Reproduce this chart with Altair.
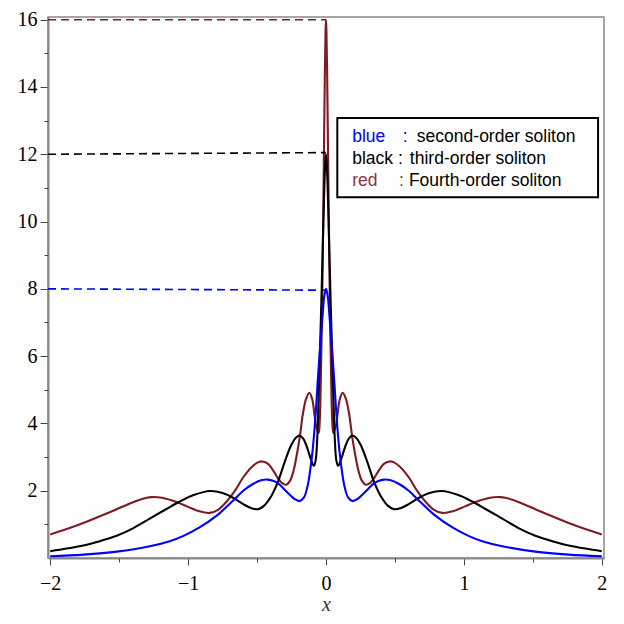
import altair as alt
import pandas as pd

# ---- data (left half, curves are symmetric about x=0) ----
blue_x = [-2.0, -1.76, -1.518, -1.278, -1.133, -1.037, -0.92, -0.795, -0.675, -0.6,
          -0.53, -0.47, -0.422, -0.38, -0.338, -0.3, -0.265, -0.23, -0.193, -0.16,
          -0.133, -0.115, -0.097, -0.082, -0.07, -0.056, -0.04, -0.025, -0.012, 0.0]
blue_y = [0.05, 0.10, 0.19, 0.35, 0.50, 0.65, 0.90, 1.25, 1.70, 2.0,
          2.2, 2.31, 2.33, 2.29, 2.19, 2.03, 1.89, 1.76, 1.69, 1.8,
          2.15, 2.6, 3.2, 3.9, 4.6, 5.5, 6.4, 7.2, 7.8, 8.0]

black_x = [-2.0, -1.88, -1.76, -1.64, -1.518, -1.4, -1.278, -1.16, -1.06, -0.96,
           -0.84, -0.75, -0.675, -0.6, -0.54, -0.494, -0.45, -0.4, -0.35, -0.3,
           -0.253, -0.22, -0.193, -0.165, -0.14, -0.115, -0.098, -0.087, -0.075,
           -0.063, -0.055, -0.048, -0.035, -0.025, -0.015, -0.007, 0.0]
black_y = [0.20, 0.28, 0.37, 0.50, 0.66, 0.88, 1.17, 1.45, 1.68, 1.87,
           1.99, 1.93, 1.79, 1.60, 1.48, 1.45, 1.55, 1.82, 2.25, 2.85,
           3.35, 3.57, 3.64, 3.55, 3.32, 3.0, 2.8, 2.74, 2.9,
           3.6, 4.6, 5.6, 7.4, 9.0, 10.6, 11.6, 12.0]

red_x = [-2.0, -1.88, -1.76, -1.64, -1.518, -1.4, -1.3, -1.265, -1.2, -1.109,
         -1.0, -0.92, -0.844, -0.78, -0.72, -0.66, -0.6, -0.54, -0.49, -0.46,
         -0.42, -0.386, -0.35, -0.32, -0.289, -0.26, -0.235, -0.217, -0.19, -0.169,
         -0.145, -0.121, -0.1, -0.085, -0.07, -0.053, -0.045, -0.038, -0.03, -0.022,
         -0.015, -0.008, -0.003, 0.0]
red_y = [0.70, 0.86, 1.04, 1.24, 1.45, 1.66, 1.79, 1.81, 1.80, 1.70,
         1.52, 1.39, 1.34, 1.44, 1.68, 2.0, 2.4, 2.7, 2.85, 2.87,
         2.8, 2.62, 2.38, 2.23, 2.18, 2.3, 2.6, 2.95, 3.6, 4.25,
         4.72, 4.91, 4.72, 4.31, 3.9, 3.72, 4.1, 5.2, 7.0, 9.5,
         12.0, 14.5, 15.7, 16.0]

# dashed guide lines (start, end heights)
guide_names = ["red", "black", "blue"]
guide_y0 = [16.0, 12.0, 8.0]
guide_y1 = [16.0, 12.05, 7.96]

x_ticks = [-2, -1, 0, 1, 2]
x_minor = [-1.5, -0.5, 0.5, 1.5]
y_ticks = [2, 4, 6, 8, 10, 12, 14, 16]
y_minor = [1, 3, 5, 7, 9, 11, 13, 15]

BLUE = "#0000ff"
BLACK = "#000000"
RED = "#7f1b24"
colors = {"blue": BLUE, "black": BLACK, "red": RED}

XMIN, XMAX = -2.016, 2.016
YMIN, YMAX = 0.0, 16.08


def mirrored(xs, ys):
    xx = list(xs) + [-v for v in reversed(xs[:-1])]
    yy = list(ys) + list(reversed(ys[:-1]))
    return pd.DataFrame({"x": xx, "y": yy})


xs = alt.Scale(domain=[XMIN, XMAX], nice=False, zero=False)
ys = alt.Scale(domain=[YMIN, YMAX], nice=False, zero=False)

SERIF = "Liberation Serif"

x_axis = alt.Axis(values=x_ticks, tickSize=7, tickColor="#444444", tickWidth=1,
                  domainColor="#888888", domainWidth=2, grid=False,
                  labelFont=SERIF, labelFontSize=20, labelColor="#000000",
                  labelPadding=8, title="x", titleFont=SERIF, titleFontStyle="italic",
                  titleFontWeight="normal", titleFontSize=20, titleColor="#333333",
                  titlePadding=1)
y_axis = alt.Axis(values=y_ticks, tickSize=8, tickColor="#444444", tickWidth=1,
                  domainColor="#888888", domainWidth=2, grid=False,
                  labelFont=SERIF, labelFontSize=20, labelColor="#000000",
                  labelPadding=3, title=None)


def curve(df, color, axes=False):
    enc_x = alt.X("x:Q", scale=xs, axis=x_axis if axes else None)
    enc_y = alt.Y("y:Q", scale=ys, axis=y_axis if axes else None)
    return alt.Chart(df).mark_line(color=color, strokeWidth=2.1,
                                   interpolate="catmull-rom").encode(x=enc_x, y=enc_y)


red_line = curve(mirrored(red_x, red_y), RED, axes=True)
black_line = curve(mirrored(black_x, black_y), BLACK)
blue_line = curve(mirrored(blue_x, blue_y), BLUE)

guides = []
for name, a, b in zip(guide_names, guide_y0, guide_y1):
    gdf = pd.DataFrame({"x0": [XMIN], "x1": [0.0], "y0": [a], "y1": [b]})
    guides.append(
        alt.Chart(gdf).mark_rule(color=colors[name], strokeWidth=1.6,
                                 strokeDash=[8, 5]).encode(
            x=alt.X("x0:Q", scale=xs, axis=None), x2="x1:Q",
            y=alt.Y("y0:Q", scale=ys, axis=None), y2="y1:Q")
    )

# minor ticks (separate axes without labels)
minor = alt.Chart(pd.DataFrame({"x": [0.0], "y": [1.0]})).mark_point(opacity=0).encode(
    x=alt.X("x:Q", scale=xs, axis=alt.Axis(values=x_minor, orient="bottom", labels=False,
                                           tickSize=4, tickColor="#444444", domain=False,
                                           grid=False, title=None)),
    y=alt.Y("y:Q", scale=ys, axis=alt.Axis(values=y_minor, orient="left", labels=False,
                                           tickSize=4, tickColor="#444444", domain=False,
                                           grid=False, title=None)),
)

# legend box
box_df = pd.DataFrame({"x0": [0.082], "x1": [1.973], "y0": [10.72], "y1": [13.08]})
box = alt.Chart(box_df).mark_rect(fill="white", stroke="black", strokeWidth=2).encode(
    x=alt.X("x0:Q", scale=xs, axis=None), x2="x1:Q",
    y=alt.Y("y0:Q", scale=ys, axis=None), y2="y1:Q")

leg_text = ["blue", ":", "second-order soliton",
            "black :", "third-order soliton",
            "red", ":", "Fourth-order soliton"]
leg_x = [0.19, 0.556, 0.659, 0.19, 0.608, 0.19, 0.529, 0.601]
leg_y = [12.36, 12.36, 12.36, 11.72, 11.72, 11.07, 11.07, 11.07]
leg_col = [BLUE, BLUE, BLACK, BLACK, BLACK, "#8b3344", "#8b3344", BLACK]
leg_df = pd.DataFrame({"t": leg_text, "x": leg_x, "y": leg_y, "c": leg_col})
legend_text = alt.Chart(leg_df).mark_text(align="left", baseline="alphabetic",
                                          font="Liberation Sans", fontSize=17.5).encode(
    x=alt.X("x:Q", scale=xs, axis=None),
    y=alt.Y("y:Q", scale=ys, axis=None),
    text="t:N",
    color=alt.Color("c:N", scale=None),
)

chart = alt.layer(
    red_line, minor, *guides, black_line, blue_line, box, legend_text
).resolve_axis(x="independent", y="independent").properties(
    width=556, height=541,
    autosize=alt.AutoSizeParams(type="none"),
    padding={"left": 40, "top": 9, "right": 12, "bottom": 58},
).configure_view(stroke="#888888", strokeWidth=1.5)

chart.save("out.html", embed_options={"renderer": "svg", "actions": False})
